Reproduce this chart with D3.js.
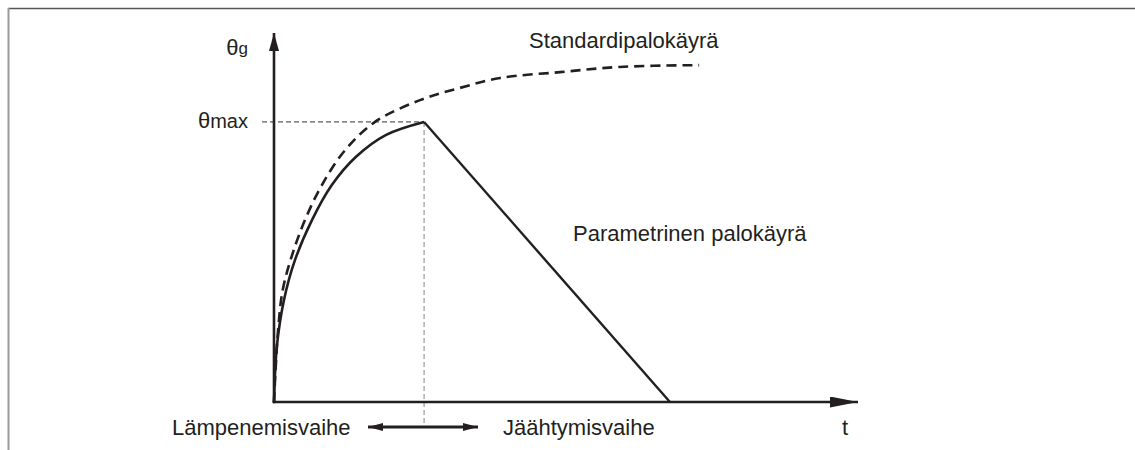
<!DOCTYPE html>
<html>
<head>
<meta charset="utf-8">
<script src="https://cdn.jsdelivr.net/npm/d3@7"></script>
<style>
  body { margin: 0; background: #fff; }
  text { font-family: "Liberation Sans", Arial, sans-serif; fill: #231f20; }
</style>
</head>
<body>
<div id="chart"></div>
<script>
// standardipalokäyrä (aika, lämpötila) luettu kuvasta
const standardT = [0, 0.7, 1.5, 3.1, 5.3, 8.2, 12.2, 17.3, 25, 31.8, 38.7, 49, 59.2, 72.8];
const standardV = [0, 19.5, 30.4, 39.8, 49.3, 58.8, 68.3, 75.9, 81.8, 85.1, 87.8, 89.4, 90.8, 91.3];

// parametrinen palokäyrä: nouseva osa ja jäähtyminen
const paramRiseT = [0, 0.5, 1.7, 3.6, 6.5, 9.9, 14.0, 19.2, 25.7];
const paramRiseV = [0, 15.2, 27.6, 38.5, 49.3, 58.8, 66.4, 72.4, 75.9];
const paramFallT = [25.7, 67.8];
const paramFallV = [75.9, 0];

const peakT = 25.7;
const peakV = 75.9;

const labels = {
  standard: "Standardipalokäyrä",
  param: "Parametrinen palokäyrä",
  heat: "Lämpenemisvaihe",
  cool: "Jäähtymisvaihe",
  t: "t"
};

const width = 1135;
const height = 450;
const ink = "#231f20";

const svg = d3.select("#chart")
  .append("svg")
  .attr("width", width)
  .attr("height", height);

// kehys (ylä- ja vasen reuna)
svg.append("line")
  .attr("x1", 8).attr("y1", 8.5).attr("x2", width).attr("y2", 8.5)
  .attr("stroke", "#555").attr("stroke-width", 1.5);
svg.append("line")
  .attr("x1", 8.5).attr("y1", 8).attr("x2", 8.5).attr("y2", height)
  .attr("stroke", "#999").attr("stroke-width", 2);

const x = d3.scaleLinear().domain([0, 100]).range([274, 858]);
const y = d3.scaleLinear().domain([0, 100]).range([402, 33]);

const defs = svg.append("defs");
function addMarker(id, len, wid) {
  defs.append("marker")
    .attr("id", id)
    .attr("viewBox", `0 0 ${len} ${wid}`)
    .attr("refX", len).attr("refY", wid / 2)
    .attr("markerWidth", len).attr("markerHeight", wid)
    .attr("markerUnits", "userSpaceOnUse")
    .attr("orient", "auto-start-reverse")
    .append("path")
    .attr("d", `M0,0 L${len},${wid / 2} L0,${wid} z`)
    .attr("fill", ink);
}
addMarker("arrowY", 18, 10);
addMarker("arrowX", 28, 11);
addMarker("arrowPhase", 15, 8);

// apuviivat huippuun
svg.append("line")
  .attr("x1", 262).attr("y1", y(peakV)).attr("x2", x(peakT)).attr("y2", y(peakV))
  .attr("stroke", "#333").attr("stroke-width", 1).attr("stroke-dasharray", "5,3");
svg.append("line")
  .attr("x1", x(peakT)).attr("y1", y(peakV)).attr("x2", x(peakT)).attr("y2", 427)
  .attr("stroke", "#999").attr("stroke-width", 1.2).attr("stroke-dasharray", "5,3");

// akselit
svg.append("line")
  .attr("x1", x(0)).attr("y1", y(0) + 1.3).attr("x2", x(0)).attr("y2", y(100))
  .attr("stroke", ink).attr("stroke-width", 2.6)
  .attr("marker-end", "url(#arrowY)");
svg.append("line")
  .attr("x1", x(0) - 1.3).attr("y1", y(0)).attr("x2", x(100)).attr("y2", y(0))
  .attr("stroke", ink).attr("stroke-width", 2.6)
  .attr("marker-end", "url(#arrowX)");

const curve = d3.line()
  .x(d => x(d[0]))
  .y(d => y(d[1]))
  .curve(d3.curveCatmullRom.alpha(0.5));

svg.append("path")
  .attr("d", curve(d3.zip(standardT, standardV)))
  .attr("fill", "none")
  .attr("stroke", ink)
  .attr("stroke-width", 2.6)
  .attr("stroke-dasharray", "10,6");

svg.append("path")
  .attr("d", curve(d3.zip(paramRiseT, paramRiseV)))
  .attr("fill", "none")
  .attr("stroke", ink)
  .attr("stroke-width", 2.6)
  .attr("stroke-linejoin", "round");

svg.append("path")
  .attr("d", d3.line().x(d => x(d[0])).y(d => y(d[1]))(d3.zip(paramFallT, paramFallV)))
  .attr("fill", "none")
  .attr("stroke", ink)
  .attr("stroke-width", 2.4);

// vaiheiden kaksoisnuoli
svg.append("line")
  .attr("x1", 368).attr("y1", 427).attr("x2", 478).attr("y2", 427)
  .attr("stroke", ink).attr("stroke-width", 3)
  .attr("marker-start", "url(#arrowPhase)")
  .attr("marker-end", "url(#arrowPhase)");

// tekstit
svg.append("text").attr("x", 529).attr("y", 48)
  .style("font-size", "22px").text(labels.standard);
svg.append("text").attr("x", 573).attr("y", 241)
  .style("font-size", "22px").text(labels.param);
svg.append("text").attr("x", 172).attr("y", 435)
  .style("font-size", "22px").text(labels.heat);
svg.append("text").attr("x", 503).attr("y", 435)
  .style("font-size", "22px").text(labels.cool);
svg.append("text").attr("x", 845).attr("y", 435)
  .attr("text-anchor", "middle")
  .style("font-size", "22px").text(labels.t);

const thetaG = svg.append("text").attr("x", 248).attr("y", 55)
  .attr("text-anchor", "end").style("font-size", "22px");
thetaG.append("tspan").text("θ");
thetaG.append("tspan").attr("dy", -1).style("font-size", "17px").text("g");

const thetaMax = svg.append("text").attr("x", 248).attr("y", 128)
  .attr("text-anchor", "end").style("font-size", "22px");
thetaMax.append("tspan").text("θ");
thetaMax.append("tspan").style("font-size", "20px").text("max");
</script>
</body>
</html>
